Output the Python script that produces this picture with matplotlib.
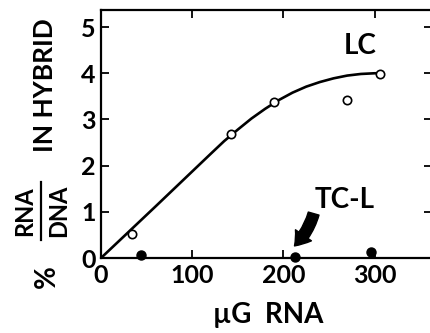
import numpy as np
import matplotlib.pyplot as plt
from matplotlib.lines import Line2D

plt.rcParams['font.family'] = ['Lato', 'DejaVu Sans']
plt.rcParams['font.weight'] = 'bold'

# open circles (LC)
lc_x = [34, 143, 190, 270, 306]
lc_y = [0.52, 2.68, 3.38, 3.42, 3.98]

# filled circles (TC-L)
tcl_x = [44, 213, 296]
tcl_y = [0.06, 0.03, 0.14]

# hand drawn curve through LC
curve_x = [0, 60, 120, 135, 150, 165, 180, 195, 210, 225, 240, 255, 270, 285, 300, 306]
curve_y = [0, 1.12, 2.25, 2.53, 2.78, 3.02, 3.23, 3.42, 3.58, 3.71, 3.81, 3.89, 3.95, 3.985, 4.0, 4.0]

W, H = 430, 333
fig = plt.figure(figsize=(W / 100, H / 100), dpi=100)
ax = fig.add_axes([101 / W, 75 / H, 331 / W, 248 / H])

ax.plot(curve_x, curve_y, color='black', lw=1.9, zorder=2, solid_joinstyle='round')
ax.plot(lc_x, lc_y, 'o', ms=6, mfc='white', mec='black', mew=1.2, zorder=3)
ax.plot(tcl_x, tcl_y, 'o', ms=6.5, color='black', zorder=3, clip_on=False)

ax.set_xlim(0, 363)
ax.set_ylim(0, 5.37)
ax.set_xticks([0, 100, 200, 300])
ax.set_yticks([0, 1, 2, 3, 4, 5])
ax.tick_params(direction='in', length=6, width=1.3, labelsize=18, pad=4,
               top=True, right=True)
for s in ax.spines.values():
    s.set_linewidth(1.6)

ax.text(284, 4.6, 'LC', fontsize=20, ha='center', va='center')
ax.text(267, 1.26, 'TC-L', fontsize=20, ha='center', va='center')
ax.annotate('', xy=(210, 0.22), xytext=(234, 1.02),
            arrowprops=dict(arrowstyle='simple,head_length=1.0,head_width=1.4,tail_width=0.8',
                            fc='black', ec='black', connectionstyle='arc3,rad=-0.15'))

fig.text(268 / W, 1 - 315 / H, '\u00b5G  RNA', fontsize=20, ha='center', va='center')

# y label pieces
fig.text(45 / W, 1 - 85 / H, 'IN HYBRID', fontsize=19, rotation=90, ha='center', va='center')
fig.text(25 / W, 1 - 211 / H, 'RNA', fontsize=17, rotation=90, ha='center', va='center')
fig.text(59 / W, 1 - 211 / H, 'DNA', fontsize=17, rotation=90, ha='center', va='center')
fig.add_artist(Line2D([41 / W, 41 / W], [1 - 182 / H, 1 - 240 / H], color='black', lw=1.6))
fig.text(47 / W, 1 - 277 / H, '%', fontsize=20, rotation=90, ha='center', va='center')

fig.savefig('out.png', dpi=100)
